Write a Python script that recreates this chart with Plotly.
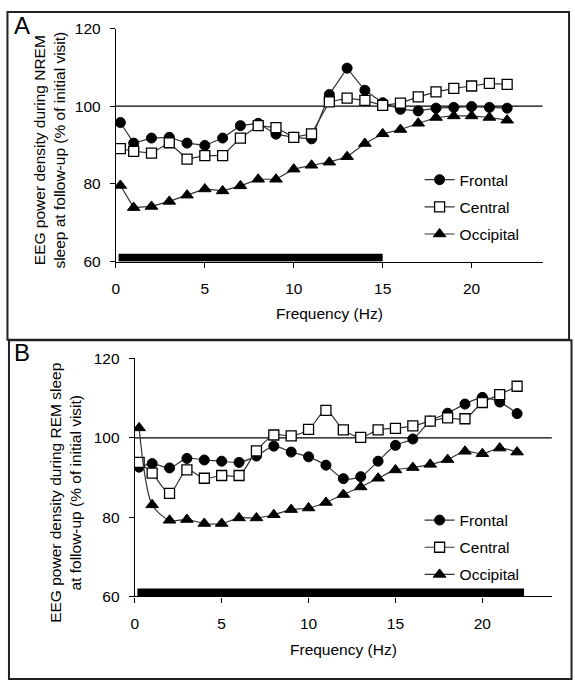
import plotly.graph_objects as go

# ---------------- data ----------------
freq = [0.25, 1, 2, 3, 4, 5, 6, 7, 8, 9, 10, 11, 12, 13, 14, 15, 16, 17, 18, 19, 20, 21, 22]

nrem_frontal = [95.8, 90.5, 91.8, 92.0, 90.5, 89.9, 91.8, 95.0, 95.6, 92.8, 92.0, 91.6,
                103.0, 109.8, 104.1, 100.9, 99.2, 98.8, 99.5, 99.7, 99.9, 99.7, 99.5]
nrem_central = [89.1, 88.4, 87.9, 90.6, 86.4, 87.3, 87.3, 91.8, 95.0, 94.5, 92.0, 92.9,
                101.1, 102.1, 101.5, 100.2, 100.8, 102.4, 103.7, 104.6, 105.2, 105.9, 105.6]
nrem_occipital = [79.6, 73.9, 74.2, 75.5, 77.1, 78.7, 78.2, 79.5, 81.2, 81.2, 83.8, 84.8,
                  85.6, 87.0, 90.4, 92.9, 94.0, 95.6, 97.1, 97.5, 97.5, 97.1, 96.4]

rem_frontal = [92.6, 93.5, 92.4, 94.8, 94.4, 94.1, 93.8, 95.4, 97.9, 96.4, 95.2, 93.1,
               89.7, 90.2, 94.1, 98.1, 99.7, 104.2, 106.2, 108.5, 110.2, 109.0, 106.1]
rem_central = [93.8, 91.1, 86.0, 91.9, 89.8, 90.5, 90.5, 96.7, 100.7, 100.5, 102.1, 106.9,
               102.0, 100.1, 102.0, 102.4, 103.0, 104.2, 105.0, 104.8, 108.9, 110.9, 113.0]
rem_occipital = [102.5, 83.1, 79.2, 79.4, 78.4, 78.4, 79.8, 79.8, 80.6, 81.9, 82.3, 83.7,
                 85.7, 87.6, 89.8, 91.9, 92.5, 93.3, 94.5, 96.6, 96.0, 97.4, 96.4]

series_names = ["Frontal", "Central", "Occipital"]
sig_range_nrem = [0.15, 15.0]   # significance bar (Hz)
sig_range_rem = [0.15, 22.4]
sig_level = 61
ref_level = 100
x_ticks = [0, 5, 10, 15, 20]
y_ticks = [60, 80, 100, 120]

# ---------------- figure ----------------
W, H = 575, 690
FONT = "Liberation Sans, Arial, sans-serif"
FS = 15.5
LINE_COL = "#333333"

styles = [
    dict(symbol="circle", size=10, color="black", line=dict(color="black", width=1)),
    dict(symbol="square", size=10, color="white", line=dict(color="black", width=1.3)),
    dict(symbol="triangle-up", size=11, color="black", line=dict(color="black", width=1)),
]

fig = go.Figure()

panels = [
    ("x", "y", "legend", [nrem_frontal, nrem_central, nrem_occipital], sig_range_nrem, "linear"),
    ("x2", "y2", "legend2", [rem_frontal, rem_central, rem_occipital], sig_range_rem, "spline"),
]

for xa, ya, leg, data, sig, shape in panels:
    # reference line at 100 %
    fig.add_trace(go.Scatter(x=[0, 24], y=[ref_level, ref_level], mode="lines",
                             line=dict(color="black", width=1.2), xaxis=xa, yaxis=ya,
                             showlegend=False, hoverinfo="skip"))
    # significance bar
    fig.add_trace(go.Scatter(x=sig, y=[sig_level, sig_level], mode="lines",
                             line=dict(color="black", width=8), xaxis=xa, yaxis=ya,
                             showlegend=False, hoverinfo="skip"))
    for name, vals, st in zip(series_names, data, styles):
        fig.add_trace(go.Scatter(
            x=freq, y=vals, mode="lines+markers", name=name,
            line=dict(color=LINE_COL, width=1.2, shape=shape, smoothing=0.8),
            marker=st, xaxis=xa, yaxis=ya, legend=leg, legendgroup=leg + name,
        ))

axis_common = dict(showgrid=False, zeroline=False, showline=True, linecolor="black",
                   linewidth=1.2, ticks="outside", ticklen=5, tickcolor="black",
                   tickwidth=1.2, tickfont=dict(family=FONT, size=FS, color="black"))

fig.update_layout(
    width=W, height=H,
    margin=dict(l=0, r=0, t=0, b=0),
    paper_bgcolor="white", plot_bgcolor="white",
    font=dict(family=FONT, size=FS, color="black"),
    xaxis=dict(domain=[112.7 / W, 542.5 / W], range=[0, 24], tickvals=x_ticks,
               anchor="y", ticklabelstandoff=8, **axis_common),
    yaxis=dict(domain=[1 - 259 / H, 1 - 20 / H], range=[60, 120], tickvals=y_ticks,
               anchor="x", ticklabelstandoff=6, **axis_common),
    xaxis2=dict(domain=[131.7 / W, 551.7 / W], range=[0, 24], tickvals=x_ticks,
                anchor="y2", ticklabelstandoff=8, **axis_common),
    yaxis2=dict(domain=[1 - 602.3 / H, 1 - 358.3 / H], range=[60, 120], tickvals=y_ticks,
                anchor="x2", ticklabelstandoff=6, **axis_common),
    legend=dict(x=418.5 / W, y=1 - 158 / H, xanchor="left", yanchor="top",
                bgcolor="rgba(0,0,0,0)", font=dict(family=FONT, size=FS, color="black"),
                tracegroupgap=4, itemwidth=30),
    legend2=dict(x=418.5 / W, y=1 - 507 / H, xanchor="left", yanchor="top",
                 bgcolor="rgba(0,0,0,0)", font=dict(family=FONT, size=FS, color="black"),
                 tracegroupgap=4, itemwidth=30),
    showlegend=True,
)

# panel borders
fig.add_shape(type="rect", xref="paper", yref="paper",
              x0=3.5 / W, x1=569 / W, y0=1 - 339 / H, y1=1 - 3 / H,
              line=dict(color="#222222", width=2))
fig.add_shape(type="rect", xref="paper", yref="paper",
              x0=5 / W, x1=571.5 / W, y0=1 - 687 / H, y1=1 - 339.5 / H,
              line=dict(color="#222222", width=2))

def ann(text, xpx, ypx, size=FS, angle=0, xanchor="center"):
    fig.add_annotation(text=text, x=xpx / W, y=1 - ypx / H, xref="paper", yref="paper",
                       showarrow=False, textangle=angle, xanchor=xanchor, yanchor="middle",
                       font=dict(family=FONT, size=size, color="black"))

ann("A", 8, 17, size=24, xanchor="left")
ann("B", 8, 352, size=24, xanchor="left")
ann("EEG power density during NREM<br>sleep at follow-up (% of initial visit)", 45.5, 145, angle=-90)
ann("EEG power density during REM sleep<br>at follow-up (% of initial visit)", 62.5, 496, angle=-90)
ann("Frequency (Hz)", 328, 312)
ann("Frequency (Hz)", 341.7, 656.5)

fig.write_html("out.html", config={"displayModeBar": False},
               post_script="document.body.style.margin='0px';document.body.style.overflow='hidden';")
